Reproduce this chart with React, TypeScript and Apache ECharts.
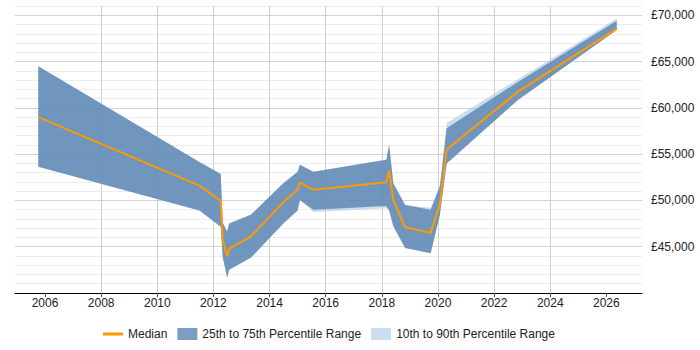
import React, { useEffect, useRef } from "react";
import * as echarts from "echarts";

// Sample dates as decimal years
const years = [
  2005.76, 2011.5, 2012.26, 2012.33, 2012.49, 2012.56, 2013.33, 2014.49, 2015.0, 2015.08,
  2015.56, 2018.16, 2018.26, 2018.41, 2018.83, 2019.74, 2020.07, 2020.31, 2022.85, 2026.37,
];
const median = [
  59000, 51600, 49950, 45750, 43950, 44800, 46100, 49800, 51150, 51950,
  51150, 51950, 53200, 50050, 47100, 46500, 49600, 55500, 61750, 68550,
];
const p25 = [
  53650, 48900, 47150, 43900, 41650, 42500, 43800, 47500, 48900, 50050,
  49000, 49400, 48900, 47200, 44850, 44300, 48450, 54000, 60850, 68400,
];
const p75 = [
  64500, 54150, 52850, 47600, 46650, 47500, 48450, 51850, 53100, 53850,
  53100, 54400, 56000, 51850, 49500, 49000, 51500, 57800, 62800, 69400,
];
const p10 = [
  53650, 48900, 47150, 43900, 41650, 42500, 43800, 47500, 48900, 50050,
  48750, 49150, 48900, 47200, 44850, 44300, 48450, 54000, 60850, 68400,
];
const p90 = [
  64500, 54150, 52850, 47600, 46650, 47500, 48450, 51850, 53100, 53850,
  53100, 54400, 56000, 51850, 49500, 49200, 51700, 58350, 63100, 69650,
];

const yearTicks = [2006, 2008, 2010, 2012, 2014, 2016, 2018, 2020, 2022, 2024, 2026];
const salaryTicks = [45000, 50000, 55000, 60000, 65000, 70000];

const FONT = "'Liberation Sans', Arial, Helvetica, sans-serif";
const MEDIAN_COLOR = "#ff9900";
const IQR_COLOR = "rgba(81,126,174,0.75)";
const DECILE_COLOR = "rgba(170,198,228,0.6)";

const money = (v: number) => "£" + String(v).replace(/\B(?=(\d{3})+(?!\d))/g, ",");

// Polygon spanning lower..upper across all sample dates, drawn once
function bandRenderer(lower: number[], upper: number[], fill: string) {
  return (params: any, api: any) => {
    if (params.dataIndex !== 0) return null;
    const points: number[][] = [];
    for (let i = 0; i < years.length; i++) points.push(api.coord([years[i], upper[i]]));
    for (let i = years.length - 1; i >= 0; i--) points.push(api.coord([years[i], lower[i]]));
    return { type: "polygon", shape: { points }, style: { fill } };
  };
}

export default function App() {
  const ref = useRef<HTMLDivElement>(null);

  useEffect(() => {
    if (!ref.current) return;
    const chart = echarts.init(ref.current, null, { renderer: "svg" });
    chart.setOption({
      animation: false,
      textStyle: { fontFamily: FONT },
      grid: { left: 15, right: 58, top: 6, bottom: 57, containLabel: false },
      legend: {
        left: 98,
        top: 323,
        itemWidth: 20,
        itemHeight: 12,
        itemGap: 10,
        textStyle: { fontSize: 12, color: "#222", fontFamily: FONT },
        data: [
          { name: "Median", icon: "path://M0,0H20V3H0Z" },
          { name: "25th to 75th Percentile Range", icon: "rect" },
          { name: "10th to 90th Percentile Range", icon: "rect" },
        ],
      },
      xAxis: {
        type: "value",
        min: 2004.93,
        max: 2027.27,
        splitNumber: 11,
        axisLine: { onZero: false, lineStyle: { color: "#000", width: 1 } },
        axisTick: { show: true, length: 4, lineStyle: { color: "#555" }, customValues: yearTicks },
        axisLabel: {
          customValues: yearTicks,
          formatter: (v: number) => String(Math.round(v)),
          fontSize: 12,
          color: "#222",
          margin: 4,
        },
        splitLine: { show: true, showMinLine: false, showMaxLine: false, lineStyle: { color: "#cfcfcf" } },
      },
      yAxis: [
        {
          type: "value",
          position: "right",
          min: 40000,
          max: 71000,
          interval: 1000,
          axisLine: { show: false },
          axisTick: { show: false },
          axisLabel: { show: false },
          splitLine: { show: true, showMinLine: false, lineStyle: { color: "#ececec" } },
        },
        {
          type: "value",
          position: "right",
          min: 40000,
          max: 71000,
          interval: 5000,
          z: 1,
          axisLine: { show: false },
          axisTick: { show: false },
          axisLabel: {
            customValues: salaryTicks,
            formatter: (v: number) => money(v),
            fontSize: 12,
            color: "#222",
            margin: 9,
          },
          splitLine: { show: true, showMinLine: false, showMaxLine: false, lineStyle: { color: "#d3d3d3" } },
        },
      ],
      series: [
        {
          name: "10th to 90th Percentile Range",
          type: "custom",
          renderItem: bandRenderer(p10, p90, DECILE_COLOR),
          itemStyle: { color: DECILE_COLOR },
          encode: { x: 0, y: [1, 2] },
          data: years.map((y, i) => [y, p10[i], p90[i]]),
          z: 2,
          silent: true,
        },
        {
          name: "25th to 75th Percentile Range",
          type: "custom",
          renderItem: bandRenderer(p25, p75, IQR_COLOR),
          itemStyle: { color: IQR_COLOR },
          encode: { x: 0, y: [1, 2] },
          data: years.map((y, i) => [y, p25[i], p75[i]]),
          z: 3,
          silent: true,
        },
        {
          name: "Median",
          type: "line",
          data: years.map((y, i) => [y, median[i]]),
          showSymbol: false,
          symbol: "none",
          lineStyle: { color: MEDIAN_COLOR, width: 2 },
          itemStyle: { color: MEDIAN_COLOR },
          z: 4,
        },
      ],
    });
    return () => chart.dispose();
  }, []);

  return (
    <div
      ref={ref}
      style={{ position: "absolute", left: 0, top: 0, width: 700, height: 350 }}
    />
  );
}
